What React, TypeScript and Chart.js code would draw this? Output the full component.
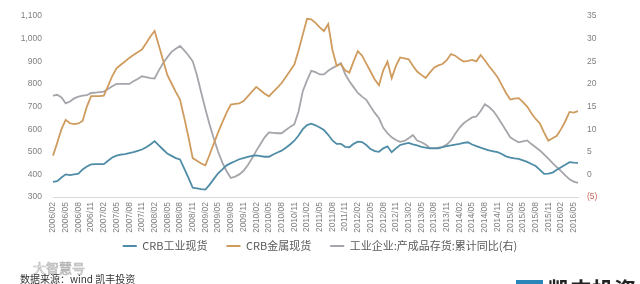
import React, { useEffect, useRef } from 'react';
import { Chart, registerables } from 'chart.js';

Chart.register(...registerables);

// Monthly categories 2006/02 .. 2016/06
const categories: string[] = [];
for (let y = 2006; y <= 2016; y++) {
  for (let m = 1; m <= 12; m++) {
    if (y === 2006 && m < 2) continue;
    if (y === 2016 && m > 6) continue;
    categories.push(`${y}/${m < 10 ? '0' + m : m}`);
  }
}

const seriesNames = ['CRB工业现货', 'CRB金属现货', '工业企业:产成品存货:累计同比(右)'];

const crbIndustrial: number[] = [
  367, 370, 386, 400, 397, 400, 403, 422, 435, 444,
  445, 445, 445, 460, 475, 483, 487, 490, 494, 498,
  504, 510, 520, 532, 547, 528, 510, 492, 482, 472,
  466, 425, 385, 341, 338, 335, 333, 355, 380, 405,
  422, 440, 450, 458, 467, 472, 477, 482, 484, 481,
  478, 478, 488, 497, 505, 518, 532, 549, 572, 600,
  618, 624, 617, 607, 596, 575, 550, 535, 535, 522,
  520, 535, 545, 543, 530, 512, 503, 500, 515, 524,
  498, 515, 530, 535, 539, 533, 528, 522, 518, 515,
  515, 515, 520, 525, 528, 532, 535, 539, 542, 532,
  525, 518, 512, 506, 502, 498, 490, 480, 474, 471,
  469, 462, 455, 446, 437, 420, 402, 403, 408, 420,
  432, 443, 454, 452, 451,
];

const crbMetal: number[] = [
  483, 540, 600, 641, 626, 622, 625, 636, 700, 746,
  746, 746, 748, 790, 835, 869, 885, 899, 915, 928,
  940, 952, 980, 1010, 1034, 970, 905, 840, 802, 765,
  731, 650, 565, 472, 460, 448, 440, 488, 537, 586,
  630, 673, 709, 712, 714, 724, 745, 766, 787, 772,
  757, 745, 765, 784, 804, 831, 858, 886, 948, 1018,
  1088, 1086, 1070, 1050, 1034, 1065, 950, 880, 888, 860,
  850, 900, 945, 925, 890, 855, 820, 794, 860, 899,
  826, 880, 917, 913, 909, 880, 855, 840, 826, 850,
  872, 882, 888, 905, 932, 925, 910, 899, 902, 906,
  900, 928, 905, 878, 855, 830, 795, 760, 731, 735,
  737, 720, 700, 670, 645, 625, 585, 549, 560, 571,
  600, 635, 676, 673, 680,
];

const inventoryYoY: number[] = [
  17.4, 17.6, 17.0, 15.7, 16.1, 16.8, 17.2, 17.4, 17.5, 18.0,
  18.1, 18.2, 18.3, 18.9, 19.5, 20.0, 20.0, 20.0, 20.0, 20.6,
  21.1, 21.7, 21.5, 21.3, 21.2, 23.0, 24.6, 25.9, 27.1, 27.8,
  28.4, 27.4, 26.3, 25.0, 21.9, 18.1, 14.4, 11.0, 7.9, 5.0,
  2.6, 0.7, -0.8, -0.5, 0.0, 0.8, 2.0, 3.5, 5.2, 6.7,
  8.2, 9.3, 9.2, 9.1, 9.1, 9.8, 10.5, 11.1, 13.9, 18.4,
  20.8, 22.9, 22.6, 22.1, 22.1, 22.9, 23.5, 24.0, 24.6, 22.2,
  20.6, 19.3, 18.0, 17.2, 16.5, 15.0, 13.6, 12.4, 10.3, 9.1,
  8.2, 7.6, 7.2, 7.4, 8.0, 8.7, 7.5, 7.1, 6.6, 5.8,
  5.8, 5.9, 6.1, 6.6, 7.5, 9.0, 10.3, 11.3, 12.0, 12.6,
  12.8, 14.0, 15.5, 14.9, 14.0, 12.7, 11.2, 9.7, 8.2, 7.6,
  7.1, 7.3, 7.5, 6.7, 6.0, 5.3, 4.4, 3.5, 2.5, 1.6,
  0.7, -0.2, -1.1, -1.6, -1.9,
];

const TICK_FONT = '"Liberation Sans", Arial, sans-serif';
const CJK_FONT = '"Noto Sans CJK SC", "Noto Sans", sans-serif';

// Moves the bottom legend up so it sits right under the rotated x labels.
const legendShift = {
  id: 'legendShift',
  afterLayout(chart: any) {
    const lg = chart.legend;
    if (lg) {
      lg.top -= 12.5;
      lg.bottom -= 12.5;
    }
  },
};

export default function App() {
  const ref = useRef<HTMLCanvasElement>(null);

  useEffect(() => {
    if (!ref.current) return;
    const chart = new Chart(ref.current, {
      type: 'line',
      data: {
        labels: categories,
        datasets: [
          {
            label: seriesNames[0],
            data: crbIndustrial,
            borderColor: '#4f8ca6',
            backgroundColor: '#4f8ca6',
            borderWidth: 1.8,
            pointRadius: 0,
            pointStyle: 'line',
            tension: 0,
            yAxisID: 'y',
          },
          {
            label: seriesNames[1],
            data: crbMetal,
            borderColor: '#cf9b5e',
            backgroundColor: '#cf9b5e',
            borderWidth: 1.8,
            pointRadius: 0,
            pointStyle: 'line',
            tension: 0,
            yAxisID: 'y',
          },
          {
            label: seriesNames[2],
            data: inventoryYoY,
            borderColor: '#a5a5ab',
            backgroundColor: '#a5a5ab',
            borderWidth: 1.8,
            pointRadius: 0,
            pointStyle: 'line',
            tension: 0,
            yAxisID: 'y1',
          },
        ],
      },
      plugins: [legendShift],
      options: {
        responsive: false,
        animation: false,
        layout: { padding: { top: 14, bottom: 10, left: 0, right: 0 } },
        plugins: {
          tooltip: { enabled: false },
          legend: {
            position: 'bottom',
            labels: {
              usePointStyle: true,
              pointStyleWidth: 14,
              boxHeight: 10,
              padding: 19,
              color: '#595959',
              font: { size: 11, family: CJK_FONT },
            },
          },
        },
        scales: {
          x: {
            offset: false,
            grid: { display: false, drawTicks: false },
            border: { display: true, color: '#d9d9d9' },
            ticks: {
              autoSkip: false,
              maxRotation: 90,
              minRotation: 90,
              padding: 5,
              color: '#808080',
              font: { size: 8.5, family: TICK_FONT },
              callback: (_v: any, i: number) => (i % 3 === 0 ? categories[i] : null),
            },
            afterFit: (s: any) => {
              s.height = 37;
            },
          },
          y: {
            position: 'left',
            min: 300,
            max: 1100,
            grid: { display: false, drawTicks: false },
            border: { display: false },
            ticks: {
              stepSize: 100,
              padding: 11,
              color: '#808080',
              font: { size: 8.5, family: TICK_FONT },
              callback: (v: any) => Number(v).toLocaleString('en-US'),
            },
            afterFit: (s: any) => {
              s.width = 53;
            },
          },
          y1: {
            position: 'right',
            min: -5,
            max: 35,
            grid: { display: false, drawTicks: false },
            border: { display: false },
            ticks: {
              stepSize: 5,
              padding: 9,
              color: (ctx: any) => (ctx.tick && ctx.tick.value < 0 ? '#c86a5a' : '#808080'),
              font: { size: 8.5, family: TICK_FONT },
              callback: (v: any) => (Number(v) < 0 ? `(${Math.abs(Number(v))})` : String(v)),
            },
            afterFit: (s: any) => {
              s.width = 62;
            },
          },
        },
      },
    });
    return () => chart.destroy();
  }, []);

  return (
    <div
      style={{
        position: 'fixed',
        left: 0,
        top: 0,
        width: 640,
        height: 284,
        background: '#ffffff',
        overflow: 'hidden',
      }}
    >
      <canvas ref={ref} width={640} height={284} style={{ display: 'block' }} />
      <div
        style={{
          position: 'absolute',
          left: 33,
          top: 261,
          fontSize: 13,
          lineHeight: '13px',
          color: '#ffffff',
          WebkitTextStroke: '0.7px #b5b5b5',
          fontFamily: CJK_FONT,
          whiteSpace: 'nowrap',
        }}
      >
        大智慧号
      </div>
      <div
        style={{
          position: 'absolute',
          left: 20,
          top: 273,
          fontSize: 10,
          lineHeight: '12px',
          color: '#333333',
          fontFamily: CJK_FONT,
          whiteSpace: 'nowrap',
        }}
      >
        数据来源：wind 凯丰投资
      </div>
      <div
        style={{
          position: 'absolute',
          left: 516,
          top: 280,
          width: 27,
          height: 10,
          background: '#2a86b8',
        }}
      />
      <div
        style={{
          position: 'absolute',
          left: 548,
          top: 277,
          fontSize: 22,
          lineHeight: '22px',
          fontWeight: 700,
          color: '#222222',
          fontFamily: CJK_FONT,
          whiteSpace: 'nowrap',
        }}
      >
        凯丰投资
      </div>
    </div>
  );
}
